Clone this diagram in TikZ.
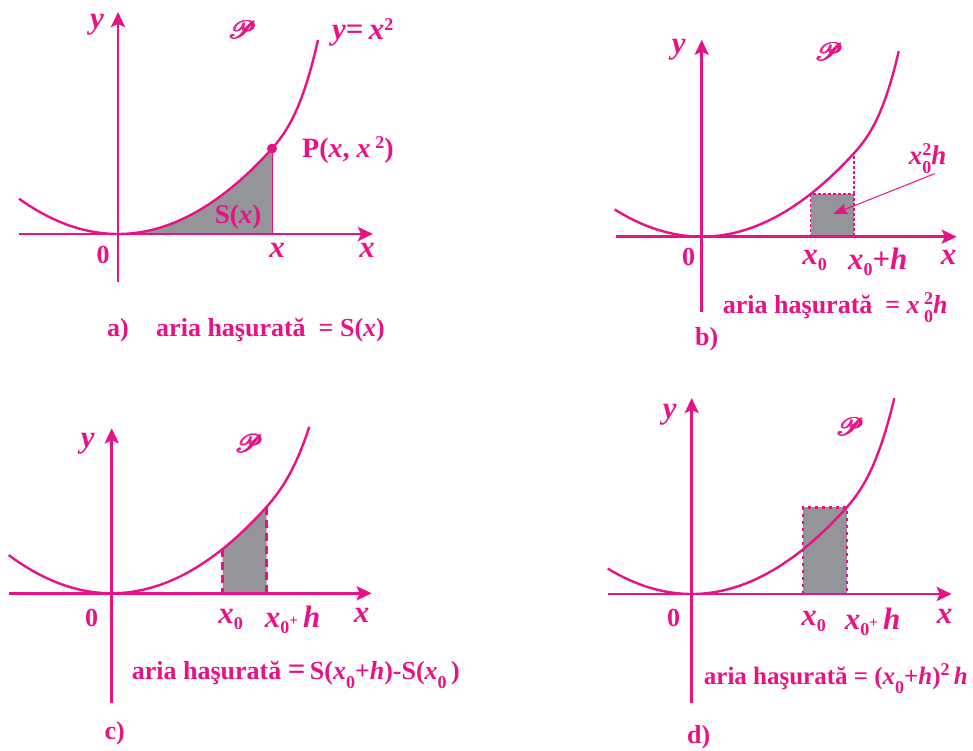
\documentclass[tikz,border=0pt]{standalone}
\usepackage{fontspec}
\setmainfont{Liberation Serif}
\usepackage{mathrsfs}
\usetikzlibrary{
    arrows.meta,
    positioning
}
\definecolor{rubine}{RGB}{232,18,134}
\definecolor{shadegray}{RGB}{148,149,153}
\newcommand{\vx}{\textit{x}}
\newcommand{\vh}{\textit{h}}
\newcommand{\sbs}[1]{\raisebox{-6pt}{\upshape\fontsize{18}{18}\selectfont #1}}
\newcommand{\sbl}[1]{\raisebox{-9pt}{\upshape\fontsize{18}{18}\selectfont #1}}
\newcommand{\sps}[1]{\raisebox{9pt}{\upshape\fontsize{18}{18}\selectfont #1}}
\newcommand{\sbsp}[2]{\makebox[0pt][l]{\sps{#2}}\sbl{#1}}
\newcommand{\smallplus}{\raisebox{2pt}{\upshape\fontsize{15}{15}\selectfont+}}
% fake bold script P
\newcommand{\scrP}{{\fontsize{31}{31}\selectfont
    \makebox[0pt][l]{$\mathscr{P}$}\makebox[0pt][l]{\hspace{0.5pt}$\mathscr{P}$}%
    \makebox[0pt][l]{\hspace{1pt}$\mathscr{P}$}\makebox[0pt][l]{\hspace{1.5pt}\raisebox{0.4pt}{$\mathscr{P}$}}%
    \hspace{2pt}$\mathscr{P}$}}
\tikzstyle{axisline} = [
    line width=2.7pt,
    draw=rubine,
    -{Stealth[length=15pt,width=14pt,inset=3pt]}
]
\tikzstyle{curveline} = [
    line width=2.4pt,
    draw=rubine
]
\tikzstyle{lbl} = [
    text=rubine,
    inner sep=0pt,
    font=\fontsize{27}{28}\selectfont\bfseries
]
\tikzstyle{caption} = [
    lbl,
    font=\fontsize{26}{28}\selectfont\bfseries
]
\tikzstyle{axlbl} = [
    lbl,
    font=\fontsize{31}{32}\selectfont\bfseries\itshape
]
\tikzstyle{pointer} = [
    line width=1pt,
    draw=rubine,
    -{Stealth[length=14pt,width=11pt,inset=2pt]}
]

\begin{document}
\begin{tikzpicture}[x=1pt, y=1pt,
    declare function={steep(\t)=max(0,(\t-150)/10);
        parab(\t,\k)=0.36*(\t/10)*(\t/10)+\k*steep(\t)*steep(\t)*steep(\t);}]
    \useasboundingbox (0,0) rectangle (973,750);

    % a) area under the curve
    \begin{scope}[shift={(118,516)}]
        \fill[shadegray] (0,0) -- plot[domain=0:154, samples=40] (\x,{parab(\x,0.40)}) -- (154,0) -- cycle;
        \draw[rubine, line width=0.8pt] (154,0) -- (154,{parab(154,0.40)});
        \draw[axisline] (-99,0) -- (255,0);
        \draw[axisline] (0,-48) -- (0,222);
        \draw[curveline] plot[domain=-99:200, samples=90] (\x,{parab(\x,0.40)});
        \fill[rubine] (154,{parab(154,0.40)}) circle (5);

        \node[axlbl] (ya) at (-21,209) {y};
        \node[lbl] (pa) at (124,204) {\scrP};
        \node[axlbl, anchor=west] (eqa) at (214,202) {y{\upshape=}\,x\sps{2}};
        \node[lbl, anchor=west, font=\fontsize{28}{30}\selectfont\bfseries] (pta) at (184,84) {P(\vx, \vx\,\sps{2})};
        \node[lbl] (sa) at (120,17) {S(\vx)};
        \node[caption] (za) at (-15,-21) {0};
        \node[axlbl] (xta) at (159,-16) {x};
        \node[axlbl] (xa) at (249,-16) {x};
        \node[caption] (capa) at (0,-96) {a)};
        \node[caption, right=27pt of capa] (areaa) {aria haşurată \ = S(\vx)};
    \end{scope}

    % b) rectangle x0^2 h
    \begin{scope}[shift={(701.7,513.3)}]
        \fill[shadegray] (109,0) rectangle (152.3,{parab(109,0.44)});
        \draw[rubine, line width=1.4pt, dash pattern=on 3pt off 2pt]
            (109,0) |- (152.3,{parab(109,0.44)}) -- (152.3,0);
        \draw[rubine, line width=1.4pt, dash pattern=on 3pt off 2pt]
            (152.3,{parab(109,0.44)}) -- (152.3,{parab(152.3,0.44)});
        \draw[axisline] (-86,0) -- (255,0);
        \draw[axisline] (0,-75) -- (0,197);
        \draw[curveline] plot[domain=-87:197, samples=90] (\x,{parab(\x,0.44)});

        \node[axlbl] (yb) at (-23,187) {y};
        \node[lbl] (pb) at (127,185) {\scrP};
        \node[lbl, anchor=south] (sqb) at (226,63) {\vx\sbsp{0}{2}\vh};
        \coordinate (tipb) at (131.6,22.7);
        \draw[pointer] (sqb.south) ++(7,0) -- (tipb);
        \node[caption] (zb) at (-13,-20) {0};
        \node[axlbl] (x0b) at (113,-24) {x\sbs{0}};
        \node[axlbl] (xhb) at (176,-25) {x\sbs{0}{\upshape+}h};
        \node[axlbl] (xb) at (247,-21) {x};
        \node[caption, anchor=west] (areab) at (21,-71) {aria haşurată \ = \vx\,\sbsp{0}{2}\vh};
        \node[caption] (capb) at (5,-103) {b)};
    \end{scope}

    % c) strip between x0 and x0+h
    \begin{scope}[shift={(111.7,156.7)}]
        \fill[shadegray] (111,0) -- plot[domain=111:155, samples=20] (\x,{parab(\x,0.24)}) -- (155,0) -- cycle;
        \draw[rubine, line width=2.8pt, dash pattern=on 8pt off 5pt] (111,{parab(111,0.24)}) -- (111,0);
        \draw[rubine, line width=2.8pt, dash pattern=on 8pt off 5pt] (155,{parab(155,0.24)}) -- (155,0);
        \draw[axisline] (-103,0) -- (260,0);
        \draw[axisline] (0,-110) -- (0,165);
        \draw[curveline] plot[domain=-103:197.6, samples=90] (\x,{parab(\x,0.24)});

        \node[axlbl] (yc) at (-24,150) {y};
        \node[lbl] (pc) at (137,150) {\scrP};
        \node[caption] (zc) at (-20,-25) {0};
        \node[axlbl] (x0c) at (119,-26) {x\sbs{0}};
        \node[axlbl] (xhc) at (181,-27) {x\sbs{0}\smallplus\,h};
        \node[axlbl] (xc) at (250,-22) {x};
        \node[caption, anchor=west] (areac) at (20,-82) {aria haşurată {\fontsize{31}{30}\selectfont=}\,S(\vx\sbl{0}+\vh)-S(\vx\sbl{0}\,)};
        \node[caption] (capc) at (3,-140) {c)};
    \end{scope}

    % d) rectangle (x0+h)^2 h
    \begin{scope}[shift={(691.7,156)}]
        \fill[shadegray] (111.6,0) rectangle (155,{parab(155,0.33)});
        \draw[rubine, line width=2.2pt, dash pattern=on 3pt off 4pt]
            (111.6,0) |- (155,{parab(155,0.33)}) -- (155,0);
        \draw[axisline] (-84,0) -- (260,0);
        \draw[axisline] (0,-109) -- (0,196);
        \draw[curveline] plot[domain=-84:202.6, samples=90] (\x,{parab(\x,0.33)});

        \node[axlbl] (yd) at (-22,179) {y};
        \node[lbl] (pd) at (158,167) {\scrP};
        \node[caption] (zd) at (-18,-24) {0};
        \node[axlbl] (x0d) at (122,-27) {x\sbs{0}};
        \node[axlbl] (xhd) at (181,-28) {x\sbs{0}\smallplus\,h};
        \node[axlbl] (xd) at (253,-22) {x};
        \node[caption, anchor=west, font=\fontsize{25}{28}\selectfont\bfseries] (aread) at (12,-85) {aria haşurată = (\vx\sbl{0}+\vh)\sps{2}\,\vh};
        \node[caption] (capd) at (7,-143) {d)};
    \end{scope}
\end{tikzpicture}
\end{document}
